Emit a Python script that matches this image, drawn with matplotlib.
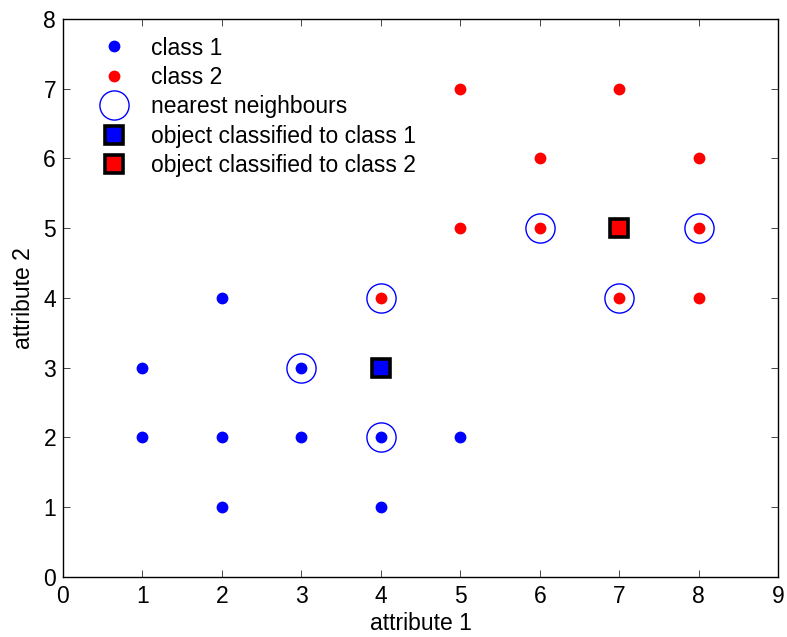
import matplotlib
matplotlib.use("Agg")
import matplotlib.pyplot as plt

plt.rcParams['font.family'] = ['Liberation Sans', 'DejaVu Sans']

# Training data
class1_x = [1, 1, 2, 2, 2, 3, 3, 4, 4, 5]
class1_y = [3, 2, 4, 2, 1, 3, 2, 2, 1, 2]
class2_x = [5, 7, 6, 8, 5, 6, 8, 4, 7, 8]
class2_y = [7, 7, 6, 6, 5, 5, 5, 4, 4, 4]

# Nearest neighbours of the two query objects
nn_x = [3, 4, 4, 6, 8, 7]
nn_y = [3, 4, 2, 5, 5, 4]

# Query objects and their assigned classes
q1_x, q1_y = [4], [3]
q2_x, q2_y = [7], [5]

xticks = list(range(0, 10))
yticks = list(range(0, 9))

FS = 16.5

fig = plt.figure(figsize=(7.87, 6.37), dpi=100)
ax = fig.add_axes([0.080, 0.0942, 0.909, 0.876])

ax.plot(class1_x, class1_y, 'o', color='blue', markersize=8.5, markeredgewidth=0, label='class 1')
ax.plot(class2_x, class2_y, 'o', color='red', markersize=8.5, markeredgewidth=0, label='class 2')
ax.plot(nn_x, nn_y, 'o', markerfacecolor='none', markeredgecolor='blue', markersize=21,
        markeredgewidth=1.0, label='nearest neighbours')
ax.plot(q1_x, q1_y, 's', markerfacecolor='blue', markeredgecolor='black', markersize=13,
        markeredgewidth=2.6, label='object classified to class 1')
ax.plot(q2_x, q2_y, 's', markerfacecolor='red', markeredgecolor='black', markersize=13,
        markeredgewidth=2.6, label='object classified to class 2')

ax.set_xlim(0, 9)
ax.set_ylim(0, 8)
ax.set_xticks(xticks)
ax.set_yticks(yticks)
ax.tick_params(direction='in', top=True, right=True, labelsize=FS, length=5, width=0.5)
ax.tick_params(axis='x', pad=6)
ax.tick_params(axis='y', pad=5)
for s in ax.spines.values():
    s.set_linewidth(1.0)
ax.set_xlabel('attribute 1', fontsize=FS, labelpad=3)
ax.set_ylabel('attribute 2', fontsize=FS, labelpad=6)

ax.legend(loc='upper left', frameon=False, fontsize=FS, numpoints=1,
          handletextpad=0.9, labelspacing=0.28, borderaxespad=0.0,
          bbox_to_anchor=(0.036, 0.985), handlelength=1.4)

fig.savefig('out.png', dpi=100)
